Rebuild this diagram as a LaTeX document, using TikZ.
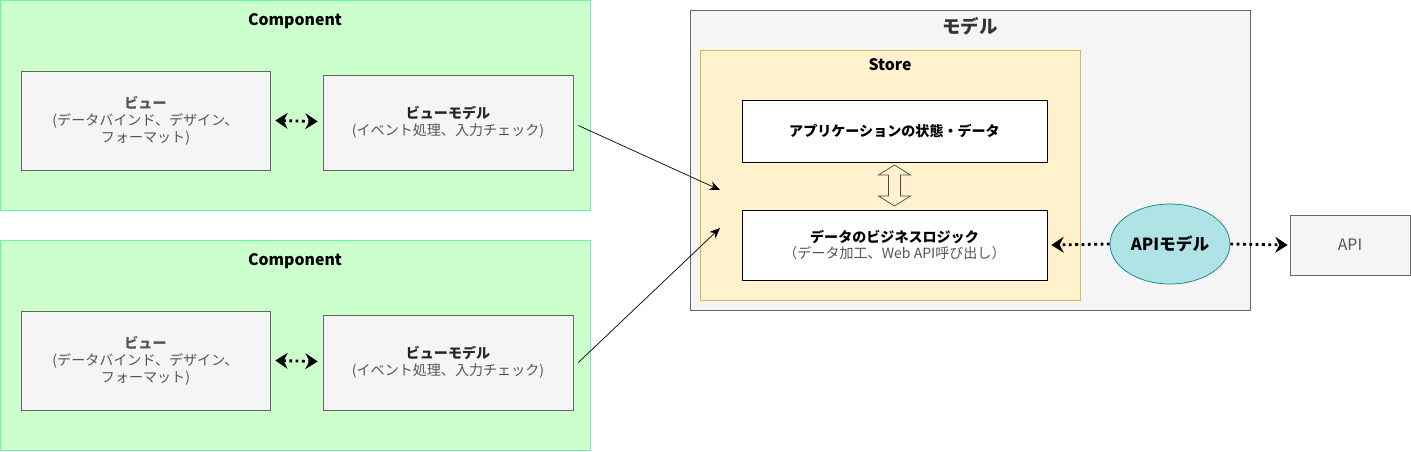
\documentclass[tikz,border=0pt]{standalone}
\usepackage{fontspec}
\setmainfont{Noto Sans CJK JP}
\usetikzlibrary{arrows.meta,calc,shapes.geometric}

\definecolor{compfill}{HTML}{CCFFCC}
\definecolor{compline}{HTML}{66F5B3}
\definecolor{grayfill}{HTML}{F5F5F5}
\definecolor{grayline}{HTML}{666666}
\definecolor{storefill}{HTML}{FFF2CC}
\definecolor{storeline}{HTML}{D6B656}
\definecolor{apifill}{HTML}{B0E3E6}
\definecolor{apiline}{HTML}{0E8088}
\definecolor{textgray}{HTML}{555555}

\begin{document}
\begin{tikzpicture}[x=0.02cm,y=-0.02cm,
	every node/.style={font=\fontsize{8}{9.6}\selectfont, align=center, inner sep=0pt},
	compbox/.style={draw=compline, fill=compfill, minimum width=11.8cm, minimum height=4.2cm},
	graybox/.style={draw=grayline, fill=grayfill, text=textgray},
	whitebox/.style={draw=black, fill=white, minimum width=6.1cm},
	title/.style={font=\fontsize{9}{11}\selectfont\bfseries},
	dotarrow/.style={line width=1.6pt, dotted, {Stealth[length=7pt,width=9pt]}-{Stealth[length=7pt,width=9pt]}},
	dotarrowto/.style={line width=1.6pt, dotted, -{Stealth[length=7pt,width=9pt]}}
	]
	\useasboundingbox (0,0) rectangle (1411,451);

	% Components
	\node[compbox] (comp1) at (295,105) {};
	\node[title] (comp1title) at (295,21) {Component};
	\node[compbox] (comp2) at (295,345) {};
	\node[title] (comp2title) at (295,261) {Component};

	% Views and view models
	\node[graybox, minimum width=4.98cm, minimum height=1.98cm] (view1) at (145.5,120.5)
		{{\bfseries ビュー}\\(データバインド、デザイン、\\フォーマット)};
	\node[graybox, minimum width=5cm, minimum height=1.9cm] (vm1) at (448,122.5)
		{{\bfseries\color{black!85}ビューモデル}\\(イベント処理、入力チェック)};
	\node[graybox, minimum width=4.98cm, minimum height=1.98cm] (view2) at (145.5,360.5)
		{{\bfseries ビュー}\\(データバインド、デザイン、\\フォーマット)};
	\node[graybox, minimum width=5cm, minimum height=1.9cm] (vm2) at (448,362.5)
		{{\bfseries\color{black!85}ビューモデル}\\(イベント処理、入力チェック)};

	\draw[dotarrow] ($(view1.east)+(5,0)$) -- ($(vm1.west)+(-5,-1)$);
	\draw[dotarrow] ($(view2.east)+(5,0)$) -- ($(vm2.west)+(-5,-1)$);

	% Model
	\node[draw=grayline, fill=grayfill, minimum width=11.2cm, minimum height=6cm] (model) at (970,160) {};
	\node[title, font=\fontsize{10.5}{12}\selectfont\bfseries, text=black!80] (modeltitle) at (970,26) {モデル};
	\node[draw=storeline, fill=storefill, minimum width=7.6cm, minimum height=5cm] (store) at (890,175) {};
	\node[title] (storetitle) at (890,65) {Store};

	\node[whitebox, minimum height=1.24cm, font=\fontsize{8}{9.6}\selectfont\bfseries] (state) at (894.5,131)
		{アプリケーションの状態・データ};
	\node[whitebox, minimum height=1.4cm] (logic) at (894.5,245)
		{{\bfseries データのビジネスロジック}\\{\color{textgray}（データ加工、Web API呼び出し）}};

	% hollow double arrow
	\draw[draw=black!70, fill=storefill] ($(state.south)!0.5!(logic.north)$) ++(0,-21) -- ++(16,10) -- ++(-10,0)
		-- ++(0,21) -- ++(10,0) -- ++(-16,10) -- ++(-16,-10) -- ++(10,0) -- ++(0,-21) -- ++(-10,0) -- cycle;

	% API model
	\node[ellipse, draw=apiline, fill=apifill, minimum width=2.4cm, minimum height=1.6cm,
		font=\fontsize{9.5}{11}\selectfont\bfseries] (apimodel) at (1170,244) {APIモデル};
	\node[graybox, minimum width=2.4cm, minimum height=1.2cm, font=\fontsize{9}{11}\selectfont] (api) at (1350,245) {API};

	\draw[dotarrowto] (apimodel.west) -- ($(logic.east)+(4,0)$);
	\draw[dotarrowto] (apimodel.east) -- ($(api.west)+(-2,0)$);

	% view models to store
	\coordinate (in1) at (720,190);
	\coordinate (in2) at (720,228);
	\draw[-{Stealth[length=6pt,width=5pt]}] ($(vm1.east)+(5,3)$) -- (in1);
	\draw[-{Stealth[length=6pt,width=5pt]}] ($(vm2.east)+(5,0)$) -- (in2);

\end{tikzpicture}
\end{document}
